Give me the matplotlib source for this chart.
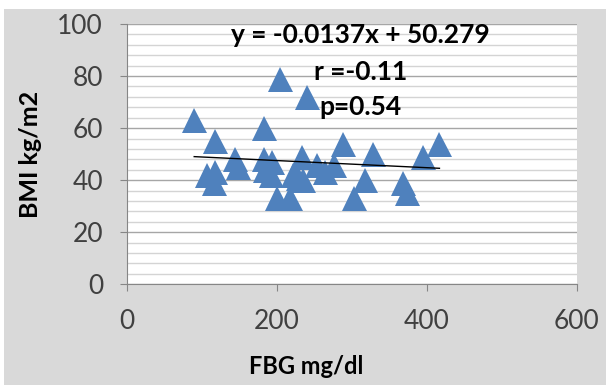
import numpy as np
import matplotlib
matplotlib.use("Agg")
import matplotlib.pyplot as plt
from matplotlib.ticker import MultipleLocator

# FBG vs BMI
fbg = [90, 205, 240, 183, 118, 288, 417, 329, 395, 145, 148, 183, 194, 234, 254,
       276, 107, 118, 117, 192, 222, 235, 264, 318, 368, 374, 200, 218, 303, 185, 229]
bmi = [63, 79, 72, 60, 55, 54, 54, 50, 49, 48, 45, 48, 47, 49, 46,
       46, 42, 43, 39, 42, 42, 40, 43, 40, 39, 35, 33, 33, 33, 44, 41]

slope, intercept = -0.0137, 50.279
annot = ["y = -0.0137x + 50.279", "r =-0.11", "p=0.54"]
xticks = [0, 200, 400, 600]
yticks = [0, 20, 40, 60, 80, 100]

plt.rcParams["font.family"] = ["Lato", "DejaVu Sans"]

fig = plt.figure(figsize=(6.06, 3.85), dpi=100, facecolor="white")
# grey chart area with a thin white margin top/left
fig.patches.append(plt.Rectangle((4 / 606, 0), 1, 1 - 9 / 385, transform=fig.transFigure,
                                 facecolor="#d9d9d9", edgecolor="none", zorder=-10))
ax = fig.add_axes([126.7 / 606, 1 - 284.3 / 385, 450 / 606, 260.3 / 385])
ax.set_facecolor("white")

ax.set_xlim(0, 600)
ax.set_ylim(0, 100)
ax.set_xticks(xticks)
ax.set_yticks(yticks)
ax.yaxis.set_minor_locator(MultipleLocator(4))
ax.grid(True, axis="y", which="major", color="#a6a6a6", linewidth=1.0)
ax.grid(True, axis="y", which="minor", color="#d4d4d4", linewidth=1.0)
ax.set_axisbelow(True)
for s in ["top", "right"]:
    ax.spines[s].set_visible(False)
for s in ["left", "bottom"]:
    ax.spines[s].set_color("#868686")
ax.tick_params(axis="both", which="major", length=5, color="#868686",
               labelsize=19, labelcolor="#404040")
ax.tick_params(axis="y", pad=12)
ax.tick_params(axis="x", pad=13)
ax.tick_params(axis="y", which="minor", length=0)

ax.plot(fbg, bmi, linestyle="none", marker="^", markersize=18,
        color="#4f81bd", markeredgewidth=0, zorder=3)

xs = np.array([min(fbg), max(fbg)])
ax.plot(xs, slope * xs + intercept, color="black", linewidth=1.0, zorder=4)

for txt, y in zip(annot, [95.9, 81.6, 68.2]):
    ax.text(312, y, txt, ha="center", va="center", fontsize=19,
            fontweight="bold", color="black", zorder=5)

fig.text(306 / 606, 1 - 366 / 385, "FBG mg/dl", ha="center", va="center",
         fontsize=17, fontweight="bold", color="black")
fig.text(30 / 606, 1 - 154 / 385, "BMI kg/m2", ha="center", va="center",
         rotation=90, fontsize=18, fontweight="bold", color="black")

fig.savefig("out.png", dpi=100, facecolor=fig.get_facecolor())
